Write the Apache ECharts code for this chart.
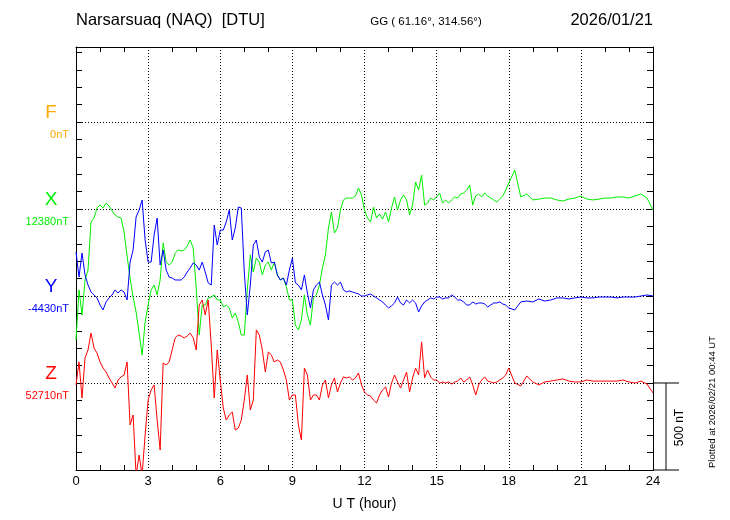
<!DOCTYPE html>
<html><head><meta charset="utf-8">
<script src="https://cdn.jsdelivr.net/npm/echarts@6/dist/echarts.min.js"></script>
<style>html,body{margin:0;padding:0;background:#fff}#c{width:730px;height:520px}</style>
</head><body><div id="c"></div>
<script>
// time grid (UT hours): 7.5-min steps to 18 h, 15-min steps to 24 h
const hours = [];
for (let i = 0; i <= 144; i++) hours.push(i * 0.125);
for (let i = 1; i <= 24; i++) hours.push(18 + i * 0.25);

const xTickLabels = ['0', '3', '6', '9', '12', '15', '18', '21', '24'];

// baselines (nT)
const fBase = 0, xBase = 12380, yBase = -4430, zBase = 52710;

// F component: no data
const fValues = [];

// X component (nT)
const xValues = [
  11627, 11915, 11771, 11972, 12029, 12305, 12328, 12386, 12403, 12386,
  12414, 12397, 12369, 12346, 12334, 12328, 12248, 12110, 11983, 11874,
  11788, 11667, 11541, 11731, 11828, 11915, 11943, 11886, 11972, 12185,
  12075, 12058, 12075, 12127, 12144, 12139, 12144, 12167, 12202, 12156,
  11926, 11656, 11828, 11828, 11869, 11874, 11886, 11857, 11857, 11817,
  11828, 11811, 11754, 11782, 11731, 11656, 11656, 11915, 12116, 12018,
  12098, 12075, 12001, 12058, 12075, 12029, 12075, 12001, 11972, 11983,
  11932, 11857, 11857, 11713, 11685, 11742, 11886, 11771, 11713, 11869,
  11886, 11943, 12041, 12116, 12271, 12363, 12242, 12271, 12374, 12432,
  12443, 12443, 12443, 12455, 12501, 12460, 12374,
  12328, 12305, 12391, 12328, 12351, 12322, 12363, 12305, 12386, 12449,
  12374, 12432, 12460, 12432, 12346, 12403, 12535, 12489, 12575, 12403,
  12414, 12443, 12432, 12449, 12472, 12414, 12432, 12414, 12432, 12449,
  12443, 12466, 12472, 12489, 12518, 12403, 12455, 12466, 12449, 12472,
  12455, 12443, 12432, 12420, 12437, 12455, 12489, 12529,
  12604, 12449, 12466, 12432, 12437, 12443, 12443, 12432, 12426, 12437,
  12443, 12455, 12437, 12432, 12437, 12443, 12443, 12449, 12449, 12443,
  12455, 12466, 12443, 12374
];

// Y component (nT)
const yValues = [
  -4177, -4321, -4183, -4309, -4367, -4407, -4424, -4441, -4482, -4510,
  -4464, -4441, -4424, -4395, -4413, -4395, -4407, -4453, -4235, -4166,
  -3976, -3936, -3878, -4108, -4235, -4235, -4079, -3982, -4252, -4166,
  -4281, -4321, -4327, -4338, -4338, -4338, -4321, -4292, -4269, -4240,
  -4252, -4281, -4235, -4292, -4355, -4367, -4022, -4137, -4051, -4051,
  -4005, -3936, -4108, -4039, -3919, -3924, -4292, -4539, -4367, -4137,
  -4108, -4206, -4235, -4177, -4166, -4240, -4235, -4309, -4338, -4327,
  -4367, -4281, -4212, -4355, -4367, -4395, -4309, -4413, -4499, -4395,
  -4367, -4350, -4424, -4482, -4568, -4367, -4350, -4367, -4350, -4395,
  -4407, -4401, -4407, -4413, -4418, -4430, -4430,
  -4424, -4418, -4430, -4441, -4453, -4464, -4482, -4499, -4487, -4470,
  -4436, -4470, -4482, -4453, -4470, -4453, -4470, -4522, -4487, -4464,
  -4453, -4441, -4447, -4436, -4436, -4447, -4441, -4441, -4424, -4436,
  -4453, -4453, -4464, -4482, -4482, -4464, -4476, -4470, -4470, -4476,
  -4493, -4482, -4470, -4470, -4464, -4476, -4482, -4499,
  -4510, -4464, -4459, -4464, -4447, -4459, -4453, -4441, -4441, -4447,
  -4441, -4436, -4441, -4441, -4436, -4436, -4436, -4441, -4436, -4436,
  -4436, -4430, -4424, -4430
];

// Z component (nT)
const zValues = [
  52699, 52831, 52624, 52854, 52900, 52997, 52911, 52882, 52831, 52796,
  52773, 52739, 52710, 52681, 52727, 52745, 52756, 52831, 52469, 52526,
  52181, 52296, 52181, 52411, 52612, 52670, 52699, 52497, 52325, 52825,
  52813, 52831, 52900, 52969, 52986, 52980, 52969, 52980, 52997, 52969,
  52900, 53158, 53187, 53101, 53187, 52928, 52624, 52900, 52727, 52566,
  52497, 52526, 52543, 52440, 52451, 52497, 52612, 52756, 52555, 52612,
  53015, 52986, 52900, 52773, 52888, 52871, 52831, 52842, 52831, 52785,
  52727, 52612, 52641, 52641, 52469, 52382, 52796, 52756, 52612, 52641,
  52641, 52612, 52699, 52727, 52624, 52699, 52739, 52658, 52710, 52745,
  52739, 52745, 52727, 52739, 52768, 52699, 52658,
  52641, 52635, 52612, 52595, 52641, 52670, 52687, 52630, 52710, 52756,
  52716, 52681, 52727, 52773, 52658, 52739, 52796, 52756, 52946, 52739,
  52785, 52745, 52727, 52727, 52710, 52716, 52710, 52716, 52704, 52716,
  52721, 52739, 52716, 52727, 52745, 52699, 52641, 52699, 52727, 52745,
  52721, 52716, 52710, 52716, 52727, 52739, 52756, 52796,
  52710, 52693, 52750, 52716, 52699, 52716, 52721, 52727, 52733, 52721,
  52716, 52716, 52727, 52721, 52721, 52721, 52721, 52721, 52727, 52716,
  52710, 52721, 52704, 52653
];

const FONT = '"Liberation Sans", Arial, Helvetica, sans-serif';
const STEP = 500;          // nT between track baselines (also scale bar)
const YMAX = 2431;         // top of panel in stacked-track nT units
const COLORS = { F: '#ffaa00', X: '#00ee00', Y: '#0000ff', Z: '#ff0000' };

const tracks = [
  { name: 'F', base: fBase, vals: fValues, level: 4 },
  { name: 'X', base: xBase, vals: xValues, level: 3 },
  { name: 'Y', base: yBase, vals: yValues, level: 2 },
  { name: 'Z', base: zBase, vals: zValues, level: 1 }
];

function toTrack(t) {
  return t.vals.map((v, i) => [hours[i], t.level * STEP + (v - t.base)]);
}

const dotted = { color: '#000', width: 1, type: [1, 2] };
const blackLine = { show: true, onZero: false, lineStyle: { color: '#000', width: 1 } };

const chart = echarts.init(document.getElementById('c'), null, { renderer: 'canvas' });
chart.setOption({
  animation: false,
  backgroundColor: '#fff',
  grid: { left: 76, top: 47, width: 577, height: 423, show: false },
  xAxis: [
    {
      type: 'value', min: 0, max: 24, interval: 3, position: 'bottom',
      axisLine: blackLine,
      axisTick: { show: false, inside: true, length: 5 },
      minorTick: { show: true, splitNumber: 3, length: 5, lineStyle: { color: '#000', width: 1 } },
      axisLabel: {
        color: '#000', fontSize: 13, fontFamily: FONT, margin: 5,
        formatter: v => xTickLabels[Math.round(v / 3)]
      },
      splitLine: { show: true, lineStyle: dotted },
      name: 'U T (hour)', nameLocation: 'middle', nameGap: 27,
      nameTextStyle: { color: '#000', fontSize: 14, fontFamily: FONT }
    },
    {
      type: 'value', min: 0, max: 24, interval: 3, position: 'top',
      axisLine: blackLine,
      axisTick: { show: false, inside: true, length: 5 },
      minorTick: { show: true, splitNumber: 3, length: 5, lineStyle: { color: '#000', width: 1 } },
      axisLabel: { show: false },
      splitLine: { show: false }
    }
  ],
  yAxis: [
    {
      type: 'value', min: 0, max: YMAX, interval: 100, position: 'left',
      axisLine: blackLine,
      axisTick: { show: true, inside: true, length: 6, lineStyle: { color: '#000', width: 1 } },
      axisLabel: { show: false },
      splitLine: { show: false }
    },
    {
      type: 'value', min: 0, max: YMAX, interval: 100, position: 'right',
      axisLine: blackLine,
      axisTick: { show: true, inside: true, length: 6, lineStyle: { color: '#000', width: 1 } },
      axisLabel: { show: false },
      splitLine: { show: false }
    },
    {
      type: 'value', min: 0, max: YMAX, interval: STEP, position: 'left',
      axisLine: { show: false }, axisTick: { show: false }, axisLabel: { show: false },
      splitLine: { show: true, lineStyle: dotted }
    }
  ],
  series: tracks.map(t => ({
    name: t.name, type: 'line', xAxisIndex: 0, yAxisIndex: 0,
    data: toTrack(t), showSymbol: false, symbol: 'none', clip: true,
    lineStyle: { color: COLORS[t.name], width: 1 },
    itemStyle: { color: COLORS[t.name] }
  }))
});

// annotation layer positioned from the axes
const py = v => chart.convertToPixel({ yAxisIndex: 0 }, v);
const px = v => chart.convertToPixel({ xAxisIndex: 0 }, v);
const xL = px(0), xR = px(24), yB = py(0), yT = py(YMAX);
const g = [];
g.push({ type: 'text', x: xL, y: 20, style: { text: 'Narsarsuaq (NAQ)  [DTU]', fill: '#000', font: '16.5px ' + FONT, align: 'left', verticalAlign: 'middle' } });
g.push({ type: 'text', x: 426, y: 22, style: { text: 'GG ( 61.16°, 314.56°)', fill: '#000', font: '11.5px ' + FONT, align: 'center', verticalAlign: 'middle' } });
g.push({ type: 'text', x: xR, y: 20, style: { text: '2026/01/21', fill: '#000', font: '16.5px ' + FONT, align: 'right', verticalAlign: 'middle' } });
tracks.forEach(t => {
  const yb = py(t.level * STEP);
  g.push({ type: 'text', x: 51, y: yb - 9, style: { text: t.name, fill: COLORS[t.name], font: '19px ' + FONT, align: 'center', verticalAlign: 'middle' } });
  g.push({ type: 'text', x: 69, y: yb + 13, style: { text: t.base + 'nT', fill: COLORS[t.name], font: '11px ' + FONT, align: 'right', verticalAlign: 'middle' } });
});
// 500 nT scale bar
const ySb = py(STEP);
const barX = xR + 13, barEnd = xR + 26;
g.push({ type: 'line', shape: { x1: xR, y1: ySb, x2: barEnd, y2: ySb }, style: { stroke: '#000', lineWidth: 1 } });
g.push({ type: 'line', shape: { x1: xR, y1: yB, x2: barEnd, y2: yB }, style: { stroke: '#000', lineWidth: 1 } });
g.push({ type: 'line', shape: { x1: barX, y1: ySb, x2: barX, y2: yB }, style: { stroke: '#000', lineWidth: 1 } });
g.push({ type: 'text', x: barEnd + 1, y: (ySb + yB) / 2 + 1, rotation: Math.PI / 2, style: { text: STEP + ' nT', fill: '#000', font: '12px ' + FONT, align: 'center', verticalAlign: 'middle' } });
g.push({ type: 'text', x: 712, y: 402, rotation: Math.PI / 2, style: { text: 'Plotted at 2026/02/21 00:44 UT', fill: '#000', font: '9.5px ' + FONT, align: 'center', verticalAlign: 'middle' } });
chart.setOption({ graphic: g });
</script>
</body></html>
